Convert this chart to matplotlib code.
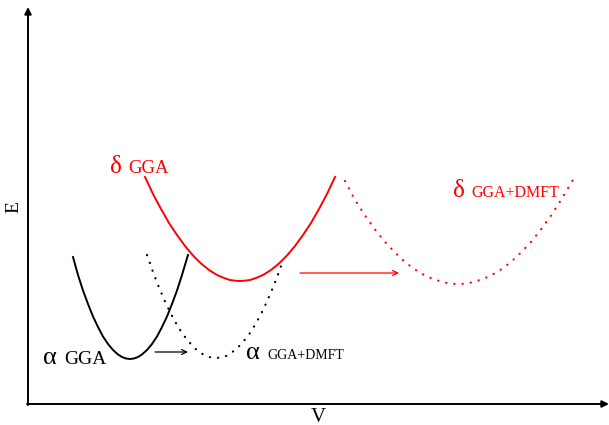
import matplotlib
matplotlib.use("Agg")
import matplotlib.pyplot as plt

plt.rcParams['font.family'] = ['Liberation Serif', 'DejaVu Serif']

# curves (x = V, y = E, picture units, y grows downward)
alpha_gga_v = [73, 78, 83, 88, 93, 98, 103, 108, 113, 118, 122, 126, 130,
               134, 138, 142, 147, 152, 157, 162, 167, 172, 177, 182, 188]
alpha_gga_e = [257, 275, 290.5, 304, 316.5, 327, 336.5, 344, 350, 354.5, 357, 358.5, 359,
               358.5, 357, 354.5, 350, 344, 336.5, 327, 316.5, 304, 290.5, 275, 255]

alpha_dmft_v = [147, 153, 159, 165, 171, 177, 183, 189, 195, 201, 206, 211, 216,
                221, 226, 231, 237, 243, 249, 255, 261, 267, 273, 278, 283]
alpha_dmft_e = [255, 272, 287.5, 301.5, 314, 325, 334.5, 342, 348.5, 353, 356, 357.5, 358,
                357.5, 356, 353, 348.5, 342, 334.5, 325, 314, 301.5, 287.5, 274.5, 260.5]

delta_gga_v = [145, 153, 161, 169, 177, 185, 193, 201, 209, 217, 224, 230, 235, 240,
               245, 250, 256, 263, 271, 279, 287, 295, 303, 311, 319, 327, 335]
delta_gga_e = [177, 194, 209, 223, 235, 246, 255.5, 263.5, 270, 275, 278, 280, 280.7, 281,
               280.7, 280, 278, 275, 270, 263.5, 255.5, 246, 235, 223, 209, 194, 177]

delta_dmft_v = [345, 355, 365, 375, 385, 395, 405, 415, 425, 433, 441, 447, 453, 458,
                463, 469, 475, 483, 491, 501, 511, 521, 531, 541, 551, 561, 574]
delta_dmft_e = [181, 200, 215.5, 229.5, 242, 252.5, 262, 269.5, 275.5, 279, 281.5, 283, 283.8, 284,
                283.8, 283, 281.5, 279, 275.5, 269.5, 262, 252.5, 242, 229.5, 215.5, 200, 178]

fig = plt.figure(figsize=(6.09, 4.25), dpi=100)
ax = fig.add_axes([0, 0, 1, 1])
ax.set_xlim(0, 609)
ax.set_ylim(425, 0)
ax.axis('off')

# axes with arrows
ax.annotate('', xy=(609, 404), xytext=(27, 404),
            arrowprops=dict(arrowstyle='-|>', color='black', lw=1.4,
                            mutation_scale=10, shrinkA=0, shrinkB=0))
ax.annotate('', xy=(28, 7), xytext=(28, 405),
            arrowprops=dict(arrowstyle='-|>', color='black', lw=1.4,
                            mutation_scale=10, shrinkA=0, shrinkB=0))
ax.text(14, 207, 'E', rotation=90, ha='center', va='center', fontsize=14)
ax.text(318, 417, 'V', ha='center', va='center', fontsize=15)

# curves
dots = (0, (0.1, 3.6))
ax.plot(alpha_gga_v, alpha_gga_e, color='black', lw=1.4)
ax.plot(alpha_dmft_v, alpha_dmft_e, color='black', lw=1.6, linestyle=dots,
        dash_capstyle='round')
ax.plot(delta_gga_v, delta_gga_e, color='red', lw=1.4)
ax.plot(delta_dmft_v, delta_dmft_e, color='red', lw=1.6, linestyle=dots,
        dash_capstyle='round')

# shift arrows
ax.annotate('', xy=(188, 352), xytext=(155, 352),
            arrowprops=dict(arrowstyle='->', color='black', lw=0.9,
                            mutation_scale=9, shrinkA=0, shrinkB=0))
ax.annotate('', xy=(399, 273), xytext=(300, 273),
            arrowprops=dict(arrowstyle='->', color='red', lw=0.9,
                            mutation_scale=9, shrinkA=0, shrinkB=0))

# labels
ax.text(110, 173, '\u03b4', color='red', fontsize=18, va='baseline')
ax.text(128, 173, 'GGA', color='red', fontsize=13.5, va='baseline')
ax.text(453, 197, '\u03b4', color='red', fontsize=18, va='baseline')
ax.text(471, 197, 'GGA+DMFT', color='red', fontsize=11.5, va='baseline')
ax.text(43, 364, '\u03b1', color='black', fontsize=19, va='baseline')
ax.text(64, 364, 'GGA', color='black', fontsize=14, va='baseline')
ax.text(246, 359, '\u03b1', color='black', fontsize=19, va='baseline')
ax.text(267, 359, 'GGA+DMFT', color='black', fontsize=10, va='baseline')

fig.savefig('out.png', dpi=100)
